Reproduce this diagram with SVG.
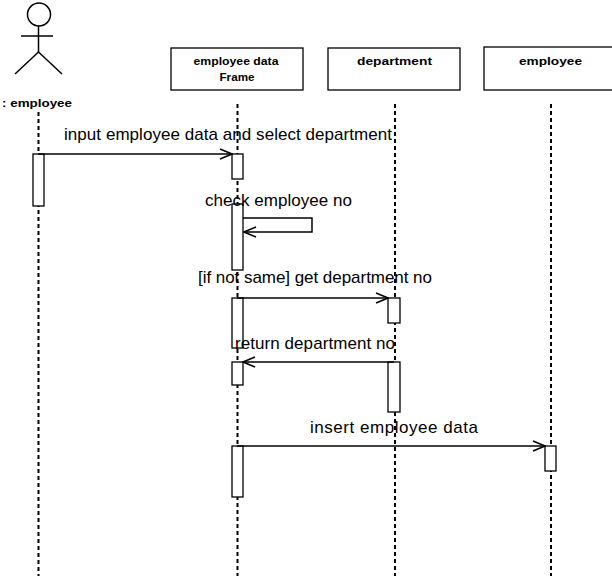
<svg xmlns="http://www.w3.org/2000/svg" width="612" height="576" viewBox="0 0 612 576">
  <style>
    .box { fill: #ffffff; stroke: #000000; stroke-width: 1.3; }
    .act { fill: #ffffff; stroke: #000000; stroke-width: 1.3; }
    .life { stroke: #000000; stroke-width: 2; stroke-dasharray: 4 3; fill: none; }
    .msg { stroke: #000000; stroke-width: 1.5; fill: none; }
    .hdr { font-family: "Liberation Sans", Arial, sans-serif; font-size: 11px; font-weight: bold; fill: #000000; text-anchor: middle; }
    .lbl { font-family: "Liberation Sans", Arial, sans-serif; font-size: 17px; fill: #000000; }
    .stick { stroke: #000000; stroke-width: 1.5; fill: none; }
  </style>
  <defs>
    <marker id="open" viewBox="0 0 14 12" refX="13" refY="6" markerWidth="14" markerHeight="12" markerUnits="userSpaceOnUse" orient="auto">
      <path d="M1,1 L13,6 L1,11" fill="none" stroke="#000000" stroke-width="1.5"/>
    </marker>
  </defs>
  <rect width="612" height="576" fill="#ffffff"/>

  <g id="actor-employee">
    <circle class="stick" cx="39" cy="14.5" r="11.5"/>
    <line class="stick" x1="21" y1="36" x2="53" y2="36"/>
    <line class="stick" x1="38.5" y1="26" x2="38.5" y2="52"/>
    <line class="stick" x1="38.5" y1="52" x2="15" y2="74"/>
    <line class="stick" x1="38.5" y1="52" x2="62" y2="74"/>
    <text class="hdr" x="37" y="107" textLength="70" lengthAdjust="spacingAndGlyphs">: employee</text>
    <line class="life" x1="38.5" y1="112" x2="38.5" y2="576"/>
    <rect class="act" x="33" y="154" width="11" height="52"/>
  </g>

  <g id="employee-data-frame">
    <rect class="box" x="171" y="48" width="132" height="42"/>
    <text class="hdr" x="236" y="65" textLength="85" lengthAdjust="spacingAndGlyphs">employee data</text>
    <text class="hdr" x="237" y="81" textLength="35" lengthAdjust="spacingAndGlyphs">Frame</text>
    <line class="life" x1="237.5" y1="104" x2="237.5" y2="576"/>
    <rect class="act" x="232" y="154" width="11" height="25"/>
    <rect class="act" x="232" y="204" width="11" height="66"/>
    <rect class="act" x="232" y="298" width="11" height="50"/>
    <rect class="act" x="232" y="362" width="11" height="23"/>
    <rect class="act" x="232" y="446" width="11" height="51"/>
  </g>

  <g id="department">
    <rect class="box" x="328" y="48" width="132" height="42"/>
    <text class="hdr" x="394.5" y="65" textLength="75" lengthAdjust="spacingAndGlyphs">department</text>
    <line class="life" x1="395" y1="104" x2="395" y2="576"/>
    <rect class="act" x="388" y="298" width="12" height="25"/>
    <rect class="act" x="388" y="362" width="12" height="50"/>
  </g>

  <g id="employee">
    <rect class="box" x="484" y="47" width="132" height="43"/>
    <text class="hdr" x="550.5" y="65" textLength="63" lengthAdjust="spacingAndGlyphs">employee</text>
    <line class="life" x1="551" y1="104" x2="551" y2="576"/>
    <rect class="act" x="545" y="446" width="11" height="25"/>
  </g>

  <g id="connectors">
    <line class="msg" x1="38" y1="154" x2="232" y2="154" marker-end="url(#open)"/>
    <text class="lbl" x="64" y="140" textLength="328">input employee data and select department</text>

    <polyline class="msg" points="243,218 312,218 312,232 244,232" marker-end="url(#open)"/>
    <text class="lbl" x="205" y="206" textLength="147">check employee no</text>

    <line class="msg" x1="237" y1="298" x2="388" y2="298" marker-end="url(#open)"/>
    <text class="lbl" x="198" y="283" textLength="234">[if not same] get department no</text>

    <line class="msg" x1="394" y1="362" x2="243" y2="362" marker-end="url(#open)"/>
    <text class="lbl" x="235" y="349" textLength="160">return department no</text>

    <line class="msg" x1="237" y1="446" x2="545" y2="446" marker-end="url(#open)"/>
    <text class="lbl" x="310" y="433" textLength="168">insert employee data</text>
  </g>
</svg>
